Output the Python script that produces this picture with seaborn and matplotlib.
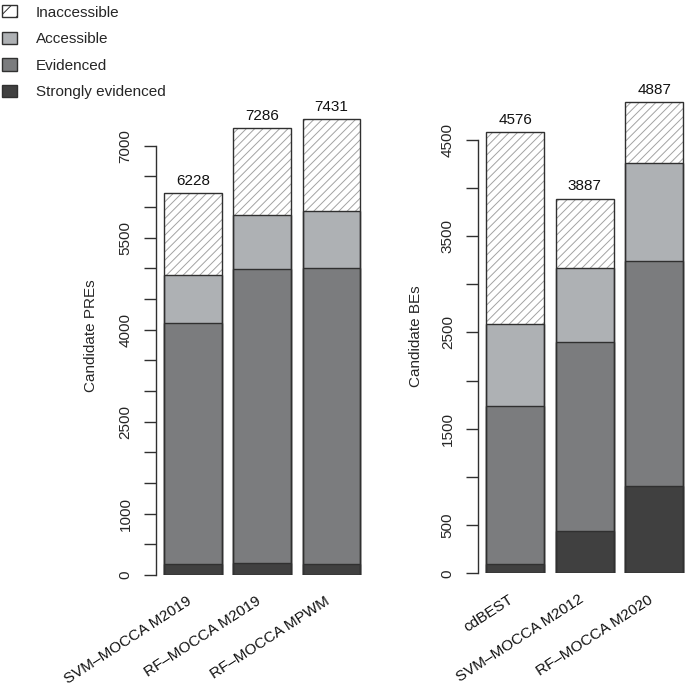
import numpy as np
import pandas as pd
import seaborn as sns
import matplotlib.pyplot as plt
from matplotlib.patches import Patch

# stacking order, bottom to top
levels = ["Strongly evidenced", "Evidenced", "Accessible", "Inaccessible"]
level_colors = ["#404040", "#7b7c7e", "#aeb1b4", "#ffffff"]

pre_methods = ["SVM\u2013MOCCA M2019", "RF\u2013MOCCA M2019", "RF\u2013MOCCA MPWM"]
pre_strong = [175, 190, 185]
pre_evid = [3940, 4807, 4827]
pre_access = [773, 875, 931]
pre_inacc = [1340, 1414, 1488]
pre_totals = [6228, 7286, 7431]
pre_ticks = list(range(0, 7001, 500))
pre_ticklabels = ["0", "", "1000", "", "", "2500", "", "", "4000", "", "", "5500", "", "", "7000"]

be_methods = ["cdBEST", "SVM\u2013MOCCA M2012", "RF\u2013MOCCA M2020"]
be_strong = [96, 439, 902]
be_evid = [1640, 1958, 2342]
be_access = [854, 768, 1014]
be_inacc = [1986, 722, 629]
be_totals = [4576, 3887, 4887]
be_ticks = list(range(0, 4501, 500))
be_ticklabels = ["0", "500", "", "1500", "", "2500", "", "3500", "", "4500"]

sns.set_style("white")
plt.rcParams["font.family"] = ["Liberation Sans", "DejaVu Sans"]
plt.rcParams["hatch.linewidth"] = 0.7
FS = 11
EDGE = "#303030"
LW = 1.0


def draw_panel(ax, methods, parts, totals, ymax, ticks, ticklabels, ylab, lab_x, lab_y):
    cum = np.cumsum(np.array(parts), axis=0)
    # tallest layer first, lower layers drawn over it
    for i in range(3, -1, -1):
        df = pd.DataFrame({"method": methods, "value": cum[i]})
        n0 = len(ax.patches)
        sns.barplot(data=df, x="method", y="value", ax=ax, color=level_colors[i],
                    width=1 / 1.2, errorbar=None, saturation=1)
        for p in ax.patches[n0:]:
            p.set_facecolor(level_colors[i])
            if i == 3:
                p.set_edgecolor("#a3a3a3")
                p.set_hatch("////")
                p.set_linewidth(0)
            else:
                p.set_edgecolor(EDGE)
                p.set_linewidth(LW)
    # outline of the hatched segment
    df = pd.DataFrame({"method": methods, "value": totals})
    n0 = len(ax.patches)
    sns.barplot(data=df, x="method", y="value", ax=ax, color="white",
                width=1 / 1.2, errorbar=None, saturation=1)
    for p in ax.patches[n0:]:
        p.set_facecolor("none")
        p.set_edgecolor(EDGE)
        p.set_linewidth(LW)

    for j, t in enumerate(totals):
        ax.annotate(str(t), (j, t), xytext=(0, 6), textcoords="offset points",
                    ha="center", va="baseline", fontsize=FS, color="#111111")

    # rotated method names under the bars
    for j, m in enumerate(methods):
        ax.annotate(m, (j, 0), xytext=(-3, -25), textcoords="offset pixels",
                    ha="right", va="center", rotation=33, rotation_mode="anchor",
                    fontsize=FS, color="#111111", annotation_clip=False)

    ax.set_xlim(-0.53, 2.53)
    ax.set_ylim(0, ymax)
    ax.set_yticks(ticks)
    ax.set_yticklabels(ticklabels)
    for s in ["top", "right", "bottom"]:
        ax.spines[s].set_visible(False)
    ax.spines["left"].set_bounds(0, ticks[-1])
    ax.spines["left"].set_color(EDGE)
    ax.spines["left"].set_linewidth(LW)
    ax.tick_params(axis="y", length=8.4, width=LW, color=EDGE, direction="out",
                   pad=8.5, labelsize=FS, labelrotation=90, left=True)
    for lab in ax.get_yticklabels():
        lab.set_va("center")
    ax.tick_params(axis="x", length=0, labelbottom=False)
    ax.set_xlabel("")
    ax.set_ylabel(ylab, fontsize=FS)
    ax.yaxis.set_label_coords(lab_x, lab_y)
    ax.set_facecolor("none")


W, H = 685, 686
fig = plt.figure(figsize=(6.85, 6.86), dpi=100)
ax1 = fig.add_axes([156.2 / W, 111 / H, 211.9 / W, 472.1 / H])
ax2 = fig.add_axes([478.3 / W, 112.7 / H, 213 / W, 481.8 / H])

draw_panel(ax1, pre_methods, [pre_strong, pre_evid, pre_access, pre_inacc], pre_totals,
           7700, pre_ticks, pre_ticklabels, "Candidate PREs", -0.273, 0.506)
draw_panel(ax2, be_methods, [be_strong, be_evid, be_access, be_inacc], be_totals,
           5000, be_ticks, be_ticklabels, "Candidate BEs", -0.258, 0.4925)

handles = []
for name, col in zip(levels[::-1], level_colors[::-1]):
    handles.append(Patch(facecolor=col, edgecolor=EDGE, linewidth=LW,
                         hatch="//" if name == "Inaccessible" else None, label=name))
fig.legend(handles=handles, loc="upper left", bbox_to_anchor=(1.7 / W, 1 - 5.2 / H),
           frameon=False, fontsize=FS, handlelength=1.0, handleheight=0.85,
           handletextpad=1.24, labelspacing=0.8, borderpad=0, borderaxespad=0)

fig.savefig("out.png", dpi=100)
